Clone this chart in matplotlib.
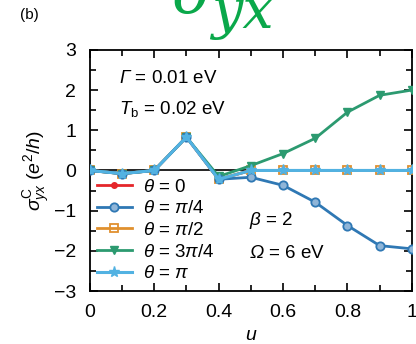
import numpy as np
import matplotlib.pyplot as plt

plt.rcParams['font.family'] = ['Liberation Sans', 'DejaVu Sans']
plt.rcParams['mathtext.fontset'] = 'custom'
plt.rcParams['mathtext.rm'] = 'Liberation Sans'
plt.rcParams['mathtext.it'] = 'Liberation Sans:italic'
# italic capital Greek (mathtext keeps them upright in 'it')
plt.rcParams['mathtext.cal'] = 'Liberation Sans:italic'

u = [0, 0.1, 0.2, 0.3, 0.4, 0.5, 0.6, 0.7, 0.8, 0.9, 1.0]
sig_0 = [0, -0.08, 0, 0.83, -0.22, 0, 0, 0, 0, 0, 0]
sig_pi4 = [0, -0.08, 0, 0.83, -0.22, -0.17, -0.37, -0.79, -1.37, -1.87, -1.95]
sig_pi2 = [0, -0.08, 0, 0.83, -0.22, 0, 0, 0, 0, 0, 0]
sig_3pi4 = [0, -0.08, 0, 0.83, -0.15, 0.12, 0.42, 0.80, 1.45, 1.87, 2.0]
sig_pi = [0, -0.08, 0, 0.83, -0.22, 0, 0, 0, 0, 0, 0]

fig = plt.figure(figsize=(4.16, 3.44), dpi=100)
ax = fig.add_axes([0.216, 0.154, 0.774, 0.701])

ax.axhline(0, color='black', lw=1.2, zorder=1)

ax.plot(u, sig_0, color='#e5262a', marker='o', ms=4, lw=2, label=r'$\theta$ = 0', zorder=3)
ax.plot(u, sig_pi4, color='#2f78b4', marker='o', ms=6, mfc='#8fb5d8', mew=1.3, lw=2,
        label=r'$\theta$ = $\pi$/4', zorder=4)
ax.plot(u, sig_pi2, color='#e0902e', marker='s', ms=6, mfc='none', mew=1.3, lw=2,
        label=r'$\theta$ = $\pi$/2', zorder=3)
ax.plot(u, sig_3pi4, color='#2c9a70', marker='v', ms=6, lw=2, label=r'$\theta$ = 3$\pi$/4', zorder=3)
ax.plot(u, sig_pi, color='#52b2e2', marker='*', ms=8, lw=2.2, label=r'$\theta$ = $\pi$', zorder=5)

ax.set_xlim(0, 1)
ax.set_ylim(-3, 3)
ax.set_xticks([0, 0.2, 0.4, 0.6, 0.8, 1.0])
ax.set_xticklabels(['0', '0.2', '0.4', '0.6', '0.8', '1'])
ax.set_xticks(np.arange(0.1, 1.0, 0.2), minor=True)
ax.set_yticks([-3, -2, -1, 0, 1, 2, 3])
ax.set_yticklabels(['\u22123', '\u22122', '\u22121', '0', '1', '2', '3'])
ax.set_yticks(np.arange(-2.5, 3, 1.0), minor=True)
ax.tick_params(which='both', direction='in', top=True, right=True, labelsize=14, width=1.2)
ax.tick_params(which='major', length=6)
ax.tick_params(which='minor', length=4)
ax.tick_params(axis='y', pad=10)
ax.tick_params(axis='x', pad=9)
for s in ax.spines.values():
    s.set_linewidth(1.3)

ax.set_xlabel(r'$u$', fontsize=14, labelpad=5)
ax.set_ylabel(r'$\sigma^{\mathrm{C}}_{yx}$ ($e^2$/$h$)', fontsize=14, labelpad=1)

ax.text(0.09, 2.29, r'$\mathcal{\Gamma}$ = 0.01 eV', fontsize=13.5, va='center')
ax.text(0.09, 1.54, r'$T_{\mathrm{b}}$ = 0.02 eV', fontsize=13.5, va='center')
ax.text(0.495, -1.24, r'$\beta$ = 2', fontsize=13.5, va='center')
ax.text(0.495, -2.06, r'$\mathcal{\Omega}$ = 6 eV', fontsize=13.5, va='center')

ax.legend(loc='lower left', bbox_to_anchor=(-0.02, -0.018), frameon=False, fontsize=13.5,
          handlelength=1.9, handletextpad=0.6, labelspacing=0.24, borderpad=0.2)

fig.text(0.048, 0.955, '(b)', fontsize=11, va='center')
# cropped green overlay text from the source page
fig.text(0.512, 0.962, '\u03c3', fontsize=44, color='#0aa84a', ha='right', va='baseline',
         family='DejaVu Serif', style='italic')
fig.text(0.507, 0.919, 'yx', fontsize=40, color='#0aa84a', ha='left', va='baseline',
         family='DejaVu Serif', style='italic')
fig.text(0.942, -0.002, 'F', fontsize=22, color='#0aa84a', va='top', family='DejaVu Serif')

fig.savefig('out.png', dpi=100)
